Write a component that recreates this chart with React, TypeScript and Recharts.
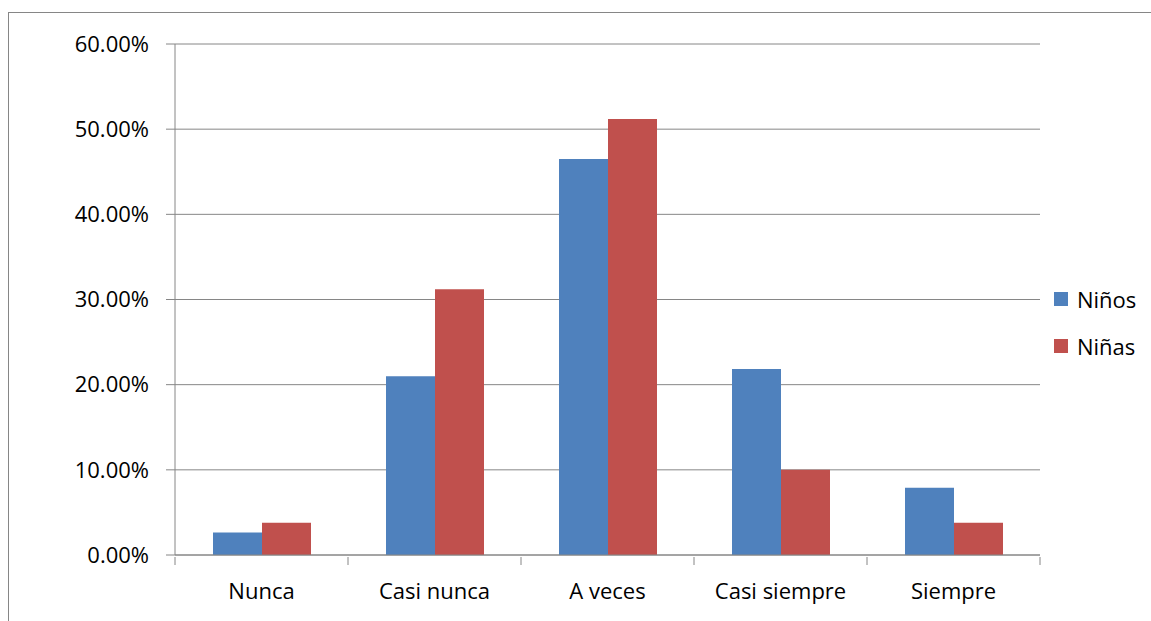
import React from 'react';
import { BarChart, Bar, XAxis, YAxis, CartesianGrid, Legend } from 'recharts';

const categories = ['Nunca', 'Casi nunca', 'A veces', 'Casi siempre', 'Siempre'];
const seriesNames = ['Niños', 'Niñas'];
const ninos = [2.65, 21.0, 46.5, 21.85, 7.9];
const ninas = [3.8, 31.2, 51.2, 10.0, 3.78];
const yTicks = [0, 10, 20, 30, 40, 50, 60];

const AXIS = '#868686';
const FONT = '"Open Sans", sans-serif';
const BAND = 173;

const data = categories.map((name, i) => ({ name, ninos: ninos[i], ninas: ninas[i] }));

function XTick(props: any) {
  const { x, y, payload, index, visibleTicksCount } = props;
  const last = index === visibleTicksCount - 1;
  return (
    <g>
      <line x1={x - BAND / 2} x2={x - BAND / 2} y1={y} y2={y + 8} stroke={AXIS} />
      {last && <line x1={x + BAND / 2} x2={x + BAND / 2} y1={y} y2={y + 8} stroke={AXIS} />}
      <text x={x} y={y + 42} textAnchor="middle" fill="#000" fontSize={22} fontFamily={FONT}>
        {payload.value}
      </text>
    </g>
  );
}

function LegendBox(props: any) {
  const items = [...(props.payload || [])].sort(
    (a: any, b: any) => seriesNames.indexOf(a.value) - seriesNames.indexOf(b.value)
  );
  return (
    <div style={{ fontFamily: FONT, fontSize: 22, color: '#000' }}>
      {items.map((p: any) => (
        <div key={p.value} style={{ display: 'flex', alignItems: 'center', height: 47 }}>
          <span style={{ display: 'inline-block', width: 14, height: 14, background: p.color, marginRight: 9 }} />
          <span>{p.value}</span>
        </div>
      ))}
    </div>
  );
}

export default function App() {
  return (
    <div style={{ position: 'absolute', left: 0, top: 0, width: 1151, height: 621, background: '#fff', overflow: 'hidden' }}>
      <div
        style={{
          position: 'absolute',
          left: 8,
          top: 12,
          width: 1143,
          height: 609,
          borderTop: `1px solid ${AXIS}`,
          borderLeft: `1px solid ${AXIS}`,
        }}
      />
      <div style={{ position: 'absolute', left: 0, top: 0 }}>
        <BarChart
          width={1151}
          height={621}
          data={data}
          margin={{ top: 44, right: 14, bottom: 0, left: 0 }}
          barGap={0}
          barSize={49}
        >
          <CartesianGrid vertical={false} stroke={AXIS} strokeWidth={1} />
          <XAxis
            dataKey="name"
            height={66}
            axisLine={{ stroke: AXIS }}
            tickLine={false}
            tickSize={0}
            tick={<XTick />}
            interval={0}
          />
          <YAxis
            width={175}
            domain={[0, 60]}
            ticks={yTicks}
            tickFormatter={(v: number) => v.toFixed(2) + '%'}
            axisLine={{ stroke: AXIS }}
            tickLine={{ stroke: AXIS }}
            tickSize={9}
            tickMargin={17}
            tick={{ fill: '#000', fontSize: 22, fontFamily: FONT }}
          />
          <Legend
            layout="vertical"
            align="right"
            verticalAlign="middle"
            width={97}
            content={<LegendBox />}
            wrapperStyle={{ position: 'absolute', left: 1054, top: 275, width: 97 }}
          />
          <Bar dataKey="ninos" name="Niños" fill="#4F81BD" isAnimationActive={false} />
          <Bar dataKey="ninas" name="Niñas" fill="#C0504D" isAnimationActive={false} />
        </BarChart>
      </div>
    </div>
  );
}
